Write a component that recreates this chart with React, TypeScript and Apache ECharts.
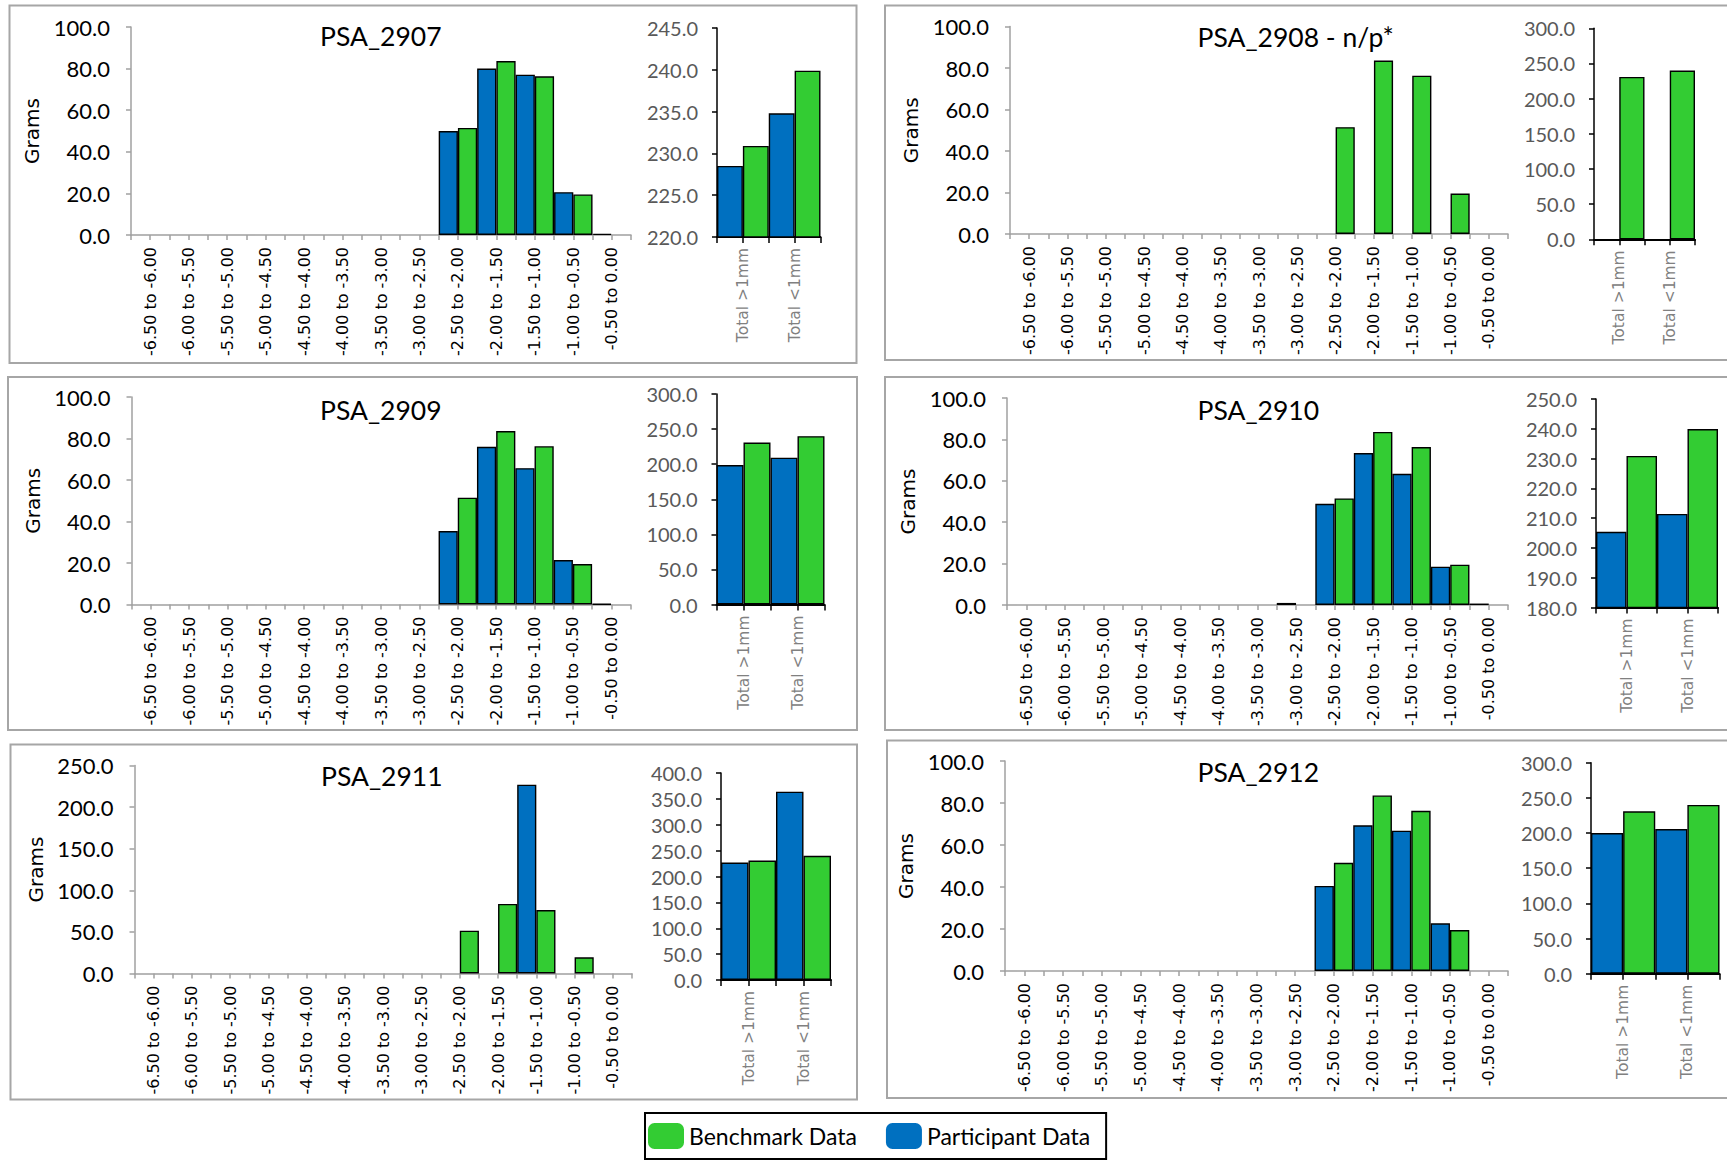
import React, { useEffect, useRef } from 'react';
import * as echarts from 'echarts';

// ---------- DATA ----------
const categories = [
  '-6.50 to -6.00', '-6.00 to -5.50', '-5.50 to -5.00', '-5.00 to -4.50',
  '-4.50 to -4.00', '-4.00 to -3.50', '-3.50 to -3.00', '-3.00 to -2.50',
  '-2.50 to -2.00', '-2.00 to -1.50', '-1.50 to -1.00', '-1.00 to -0.50',
  '-0.50 to 0.00',
];
const totalCategories = ['Total >1mm', 'Total <1mm'];
const panelTitles = ['PSA_2907', 'PSA_2908 - n/p*', 'PSA_2909', 'PSA_2910', 'PSA_2911', 'PSA_2912'];

const benchmarkBins = [null, null, null, null, null, null, null, null, 51.5, 83.6, 76.3, 19.5, null];
const benchmarkTotals = [230.9, 239.9];

const participant2907 = [null, null, null, null, null, null, null, null, 50.0, 80.0, 77.1, 20.6, 0.6];
const totals2907 = [228.5, 234.8];
const participant2908 = [null, null, null, null, null, null, null, null, null, null, null, null, null];
const totals2908 = [null, null];
const participant2909 = [null, null, null, null, null, null, null, null, 35.4, 76.0, 65.7, 21.4, 0.3];
const totals2909 = [198.8, 209.2];
const participant2910 = [null, null, null, null, null, null, null, 1.0, 48.9, 73.4, 63.4, 18.5, 0.7];
const totals2910 = [205.4, 211.4];
const participant2911 = [null, null, null, null, null, null, null, null, null, null, 226.9, null, null];
const totals2911 = [227.0, 363.9];
const participant2912 = [null, null, null, null, null, null, null, null, 40.5, 69.4, 66.8, 22.7, null];
const totals2912 = [200.0, 205.7];

const participantBins = [participant2907, participant2908, participant2909, participant2910, participant2911, participant2912];
const participantTotals = [totals2907, totals2908, totals2909, totals2910, totals2911, totals2912];

// histogram y axis [min, max, interval]
const histAxis = [[0, 100, 20], [0, 100, 20], [0, 100, 20], [0, 100, 20], [0, 250, 50], [0, 100, 20]];
// totals y axis [min, max, interval]
const totalsAxis = [[220, 245, 5], [0, 300, 50], [0, 300, 50], [180, 250, 10], [0, 400, 50], [0, 300, 50]];

// ---------- LAYOUT ----------
// panel frame [x, y, w, h]
const frames = [
  [9.5, 5.5, 847, 357.5],
  [885, 5.5, 860, 354.5],
  [8, 377, 849, 353],
  [885, 377, 860, 353],
  [10.5, 744.5, 846.5, 355],
  [887, 740.5, 860, 357.5],
];
// histogram grid [left, top, width, height]
const histGrids = [
  [131, 27, 500, 208],
  [1010, 26.5, 498, 207.5],
  [131.5, 397, 499, 207.5],
  [1007, 398, 501, 207],
  [134.5, 765.5, 497.5, 208],
  [1005, 761, 503, 210],
];
// totals grid [left, top, width, height]
const totalsGrids = [
  [717, 28, 103.5, 209],
  [1594, 28.3, 101, 211],
  [716.5, 394, 108, 210.5],
  [1596, 399, 122, 208.5],
  [721, 773, 110, 207],
  [1591, 762.7, 128.5, 211],
];
// title [x, capTop]
const titlePos = [
  [320, 28.5], [1197.5, 29.5], [320, 402.5], [1197.5, 402.5], [321, 768.5], [1197.5, 764.5],
];

const BLUE = '#0070C0';
const GREEN = '#33CC33';
const AXIS_GRAY = '#A0A0A0';

function buildOption() {
  const grid: any[] = [];
  const xAxis: any[] = [];
  const yAxis: any[] = [];
  const series: any[] = [];
  const graphic: any[] = [];

  for (let i = 0; i < 6; i++) {
    const hg = histGrids[i];
    const tg = totalsGrids[i];
    grid.push({ left: hg[0], top: hg[1], width: hg[2], height: hg[3], containLabel: false });
    grid.push({ left: tg[0], top: tg[1], width: tg[2], height: tg[3], containLabel: false });
    const gh = 2 * i;
    const gt = 2 * i + 1;

    // histogram x axis (boundary ticks + labels)
    xAxis.push({
      type: 'category', gridIndex: gh, position: 'bottom', data: categories, boundaryGap: true,
      axisLine: { show: true, lineStyle: { color: AXIS_GRAY, width: 1.5 } },
      axisTick: { show: true, alignWithLabel: false, interval: 0, length: 5, lineStyle: { color: AXIS_GRAY, width: 1.5 } },
      axisLabel: { show: true, interval: 0, rotate: 90, margin: 12, fontFamily: 'DejaVu Sans', fontSize: 16, color: '#000' },
      splitLine: { show: false },
    });
    // histogram centre ticks
    xAxis.push({
      type: 'category', gridIndex: gh, position: 'bottom', data: categories, boundaryGap: true,
      axisLine: { show: false },
      axisTick: { show: true, alignWithLabel: true, interval: 0, length: 5, lineStyle: { color: AXIS_GRAY, width: 1.5 } },
      axisLabel: { show: false },
      splitLine: { show: false },
    });
    // totals x axis
    xAxis.push({
      type: 'category', gridIndex: gt, position: 'bottom', data: totalCategories, boundaryGap: true,
      axisLine: { show: true, lineStyle: { color: '#000', width: 2 } },
      axisTick: { show: true, alignWithLabel: false, interval: 0, length: 6, lineStyle: { color: '#000', width: 1.5 } },
      axisLabel: { show: true, interval: 0, rotate: 90, margin: 11, fontFamily: 'DejaVu Sans', fontSize: 15.5, color: '#808080' },
      splitLine: { show: false },
    });
    xAxis.push({
      type: 'category', gridIndex: gt, position: 'bottom', data: totalCategories, boundaryGap: true,
      axisLine: { show: false },
      axisTick: { show: true, alignWithLabel: true, interval: 0, length: 6, lineStyle: { color: '#000', width: 1.5 } },
      axisLabel: { show: false },
      splitLine: { show: false },
    });

    const ha = histAxis[i];
    yAxis.push({
      type: 'value', gridIndex: gh, min: ha[0], max: ha[1], interval: ha[2],
      axisLine: { show: true, lineStyle: { color: AXIS_GRAY, width: 1.5 } },
      axisTick: { show: true, length: 5, lineStyle: { color: AXIS_GRAY, width: 1.5 } },
      axisLabel: { margin: 21, fontFamily: 'Lato', fontSize: 22, color: '#000', formatter: (v: number) => v.toFixed(1) },
      splitLine: { show: false },
    });
    const ta = totalsAxis[i];
    yAxis.push({
      type: 'value', gridIndex: gt, min: ta[0], max: ta[1], interval: ta[2],
      axisLine: { show: true, lineStyle: { color: '#000', width: 1.5 } },
      axisTick: { show: true, length: 5, lineStyle: { color: '#000', width: 1.5 } },
      axisLabel: { margin: 19, fontFamily: 'Lato', fontSize: 20, color: '#595959', formatter: (v: number) => v.toFixed(1) },
      splitLine: { show: false },
    });

    const barCommon = { type: 'bar', barGap: '0%', barCategoryGap: '0%' };
    series.push({
      ...barCommon, name: 'Participant Data', xAxisIndex: 4 * i, yAxisIndex: gh,
      data: participantBins[i],
      itemStyle: { color: BLUE, borderColor: '#000', borderWidth: 1.4 },
    });
    series.push({
      ...barCommon, name: 'Benchmark Data', xAxisIndex: 4 * i, yAxisIndex: gh,
      data: benchmarkBins,
      itemStyle: { color: GREEN, borderColor: '#000', borderWidth: 1.4 },
    });
    series.push({
      ...barCommon, name: 'Participant Data', xAxisIndex: 4 * i + 2, yAxisIndex: gt,
      data: participantTotals[i],
      itemStyle: { color: BLUE, borderColor: '#000', borderWidth: 1.4 },
    });
    series.push({
      ...barCommon, name: 'Benchmark Data', xAxisIndex: 4 * i + 2, yAxisIndex: gt,
      data: benchmarkTotals,
      itemStyle: { color: GREEN, borderColor: '#000', borderWidth: 1.4 },
    });

    const f = frames[i];
    graphic.push({
      type: 'rect', shape: { x: f[0], y: f[1], width: f[2], height: f[3] },
      style: { fill: 'none', stroke: '#A6A6A6', lineWidth: 2 }, z: -1, silent: true,
    });
    const tp = titlePos[i];
    graphic.push({
      type: 'text', x: tp[0], y: tp[1] + 7,
      style: { text: panelTitles[i], fontFamily: 'Lato', fontSize: 26.5, fill: '#000', textAlign: 'left', textVerticalAlign: 'middle' },
      silent: true,
    });
    graphic.push({
      type: 'text', x: hg[0] - 99, y: hg[1] + hg[3] / 2, rotation: Math.PI / 2,
      style: { text: 'Grams', fontFamily: 'DejaVu Sans', fontSize: 20, fill: '#000', textAlign: 'center', textVerticalAlign: 'middle' },
      silent: true,
    });
  }

  return {
    animation: false,
    backgroundColor: '#fff',
    grid,
    xAxis,
    yAxis,
    series,
    graphic,
    legend: {
      data: ['Benchmark Data', 'Participant Data'],
      left: 645, top: 1113,
      orient: 'horizontal',
      itemWidth: 36, itemHeight: 26, itemGap: 29,
      icon: 'roundRect',
      padding: [10, 16, 10, 3],
      borderColor: '#000', borderWidth: 2,
      itemStyle: { borderWidth: 0 },
      selectedMode: false,
      textStyle: { fontFamily: 'Lato', fontSize: 23, color: '#000' },
    },
  };
}

export default function App() {
  const ref = useRef<HTMLDivElement>(null);
  useEffect(() => {
    if (!ref.current) return;
    const chart = echarts.init(ref.current, undefined, { renderer: 'svg' });
    chart.setOption(buildOption() as any);
    return () => chart.dispose();
  }, []);
  return (
    <div
      ref={ref}
      style={{ position: 'absolute', left: 0, top: 0, width: 1727, height: 1161, background: '#fff' }}
    />
  );
}
